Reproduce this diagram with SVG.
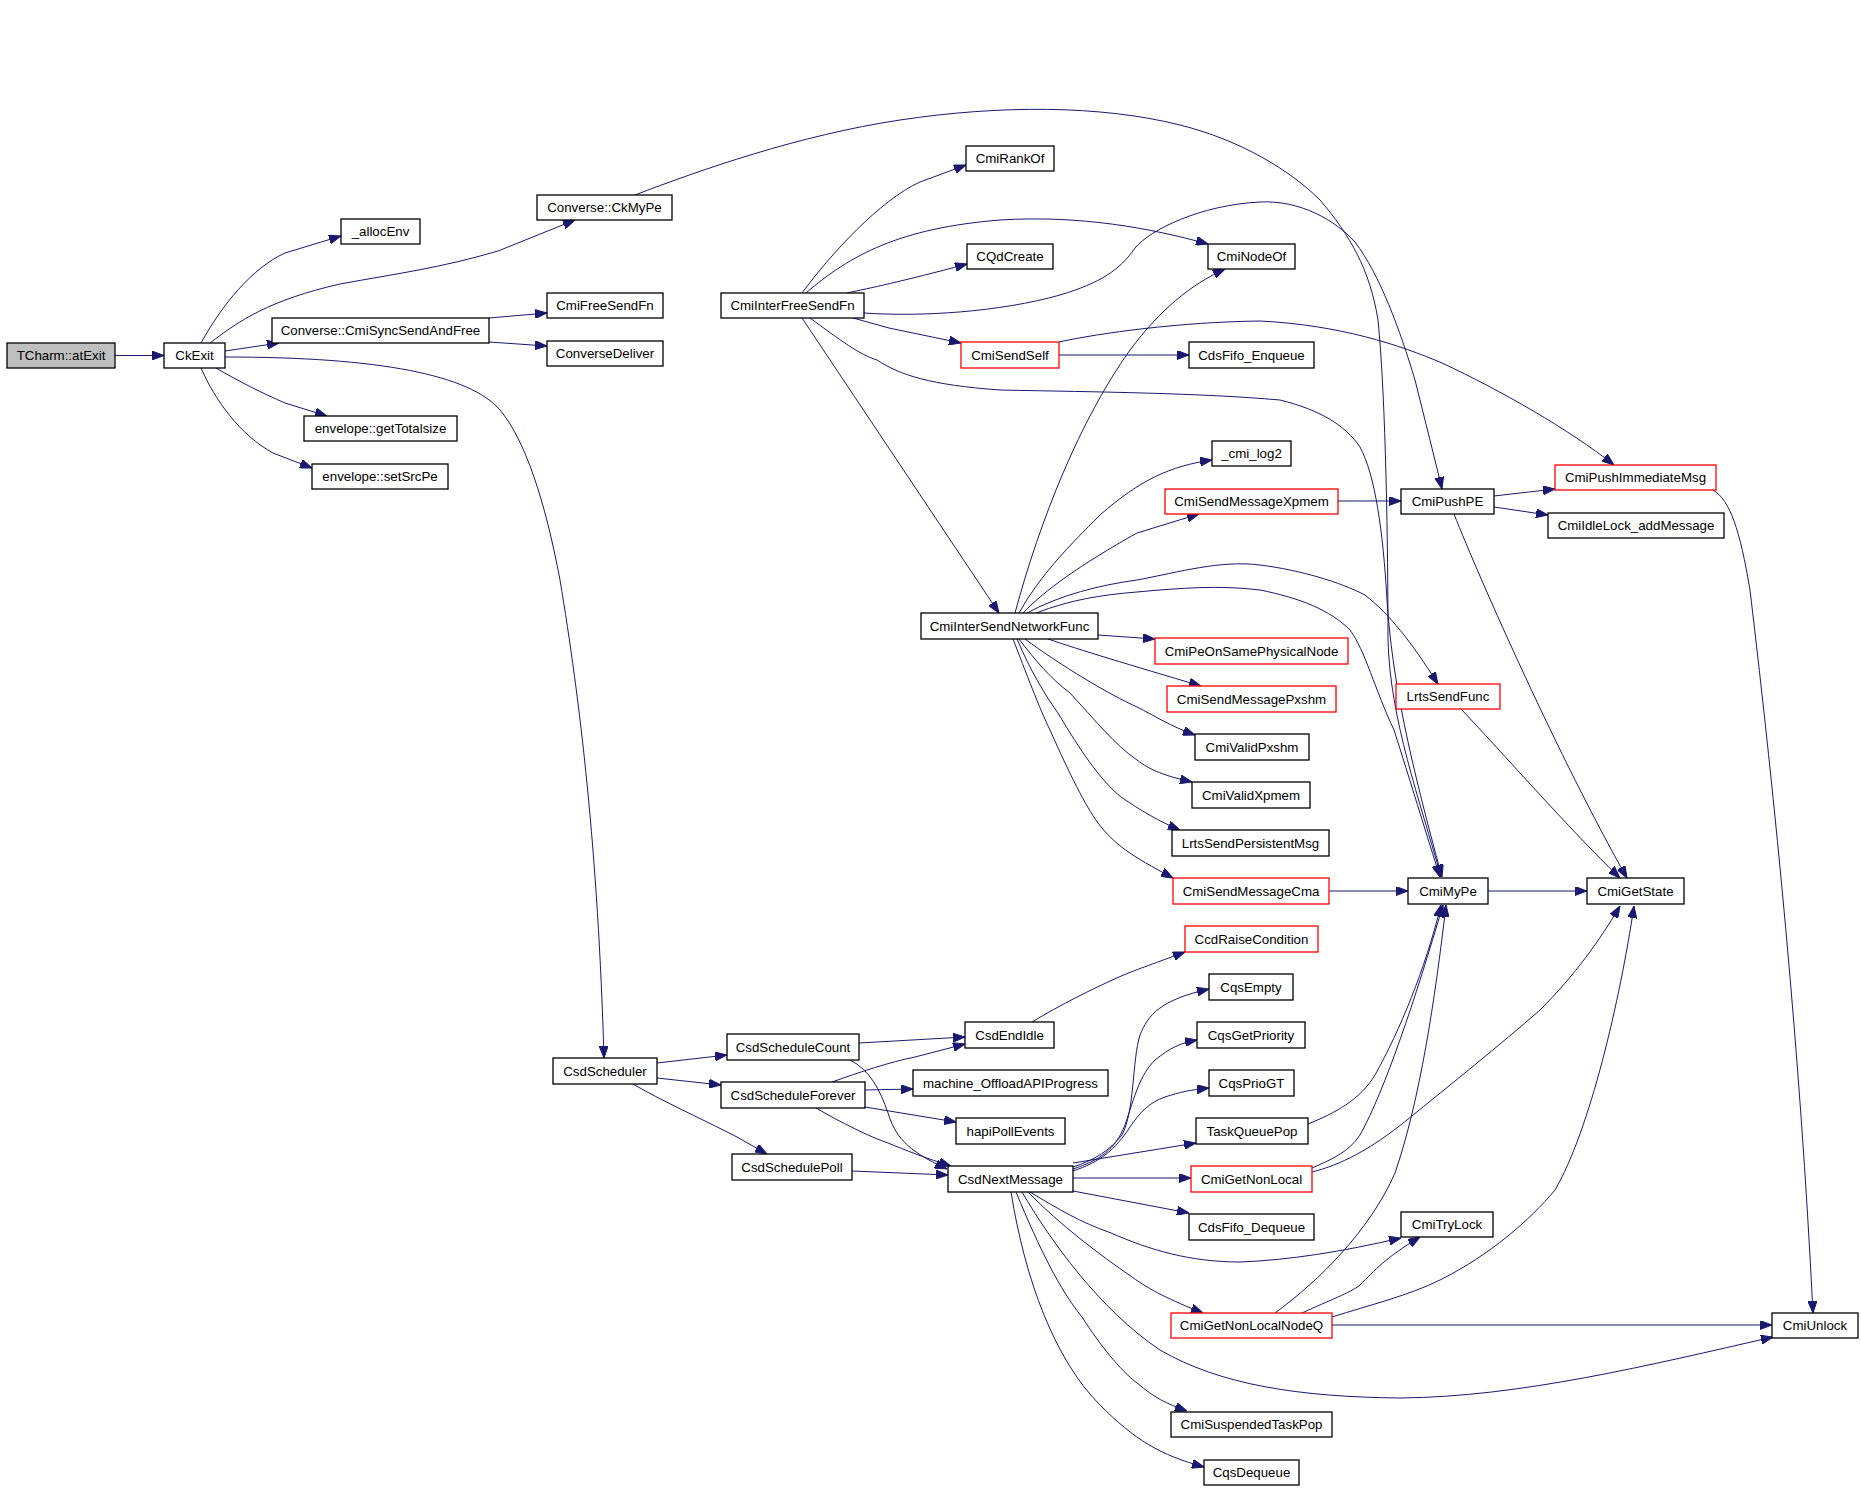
<svg xmlns="http://www.w3.org/2000/svg" width="1861" height="1489" viewBox="0 0 1861 1489">
<style>
.node rect{fill:#ffffff;stroke:#000000;stroke-width:1.3}
.node.red rect{stroke:#ff0000}
.node.root rect{fill:#bfbfbf}
.node text{font-family:"Liberation Sans",Arial,Helvetica,sans-serif;font-size:13.3px;fill:#000000;text-anchor:middle}
.edges path{fill:none;stroke:#191970;stroke-width:1}
</style>
<defs>
<marker id="ah" viewBox="0 0 12 9" refX="12" refY="4.5" markerWidth="12" markerHeight="9" markerUnits="userSpaceOnUse" orient="auto">
<path d="M0,0 L12,4.5 L0,9 z" fill="#191970" stroke="#191970" stroke-width="1"/>
</marker>
</defs>
<rect x="0" y="0" width="1861" height="1489" fill="#ffffff"/>
<g class="edges" marker-end="url(#ah)">
<path marker-end="url(#ah)" d="M115,355.5 L164,355.5"/>
<path marker-end="url(#ah)" d="M201,343 C222,305 252,268 285,253 L341,236"/>
<path marker-end="url(#ah)" d="M210,343 C240,320 270,300 340,284 C400,273 440,268 498,251 L575,220"/>
<path marker-end="url(#ah)" d="M225,351 L279,343"/>
<path marker-end="url(#ah)" d="M489,318 L547,313"/>
<path marker-end="url(#ah)" d="M489,342 L547,346"/>
<path marker-end="url(#ah)" d="M216,368 C240,382 262,393 285,403 L327,416"/>
<path marker-end="url(#ah)" d="M201,368 C215,400 240,435 273,453 L312,468"/>
<path marker-end="url(#ah)" d="M225,357 C380,357 470,375 500,410 C525,440 545,500 560,580 C580,700 598,850 604,1058"/>
<path marker-end="url(#ah)" d="M635,195 C700,170 800,135 900,120 C1000,105 1100,105 1180,125 C1240,140 1290,170 1320,200 C1350,235 1370,270 1378,320 C1386,400 1388,550 1388,640 C1390,720 1420,800 1441,877"/>
<path marker-end="url(#ah)" d="M864,313 C920,317 1000,312 1060,295 C1100,283 1120,270 1135,248 C1150,230 1200,205 1260,202 C1300,200 1335,220 1355,242 C1380,275 1400,330 1415,380 C1425,420 1435,460 1442,489"/>
<path marker-end="url(#ah)" d="M806,293 C850,255 900,228 1000,220 C1080,215 1150,228 1208,244"/>
<path marker-end="url(#ah)" d="M802,293 C830,255 880,200 920,182 L966,165"/>
<path marker-end="url(#ah)" d="M847,293 C870,288 900,282 967,264"/>
<path marker-end="url(#ah)" d="M853,318 L889,328 L961,343"/>
<path marker-end="url(#ah)" d="M802,318 L999,613"/>
<path marker-end="url(#ah)" d="M810,318 C840,340 860,355 877,360 C900,375 930,385 1000,390 C1100,392 1200,393 1280,400 C1320,410 1345,425 1360,447 C1375,475 1383,530 1387,600 C1392,680 1410,760 1442,877"/>
<path marker-end="url(#ah)" d="M1059,355 L1189,355"/>
<path marker-end="url(#ah)" d="M1059,342 C1100,333 1180,322 1260,321 C1340,325 1400,345 1442,363 C1500,390 1570,430 1614,465"/>
<path marker-end="url(#ah)" d="M1338,501 L1401,501"/>
<path marker-end="url(#ah)" d="M1494,496 L1555,489"/>
<path marker-end="url(#ah)" d="M1494,507 L1548,515"/>
<path marker-end="url(#ah)" d="M1454,514 C1480,580 1560,760 1627,878"/>
<path marker-end="url(#ah)" d="M1461,709 C1500,750 1570,830 1620,878"/>
<path marker-end="url(#ah)" d="M1713,490 C1730,500 1740,530 1750,590 C1775,800 1800,1050 1813,1313"/>
<path marker-end="url(#ah)" d="M1488,891 L1587,891"/>
<path marker-end="url(#ah)" d="M1329,891 L1408,891"/>
<path marker-end="url(#ah)" d="M1015,613 C1040,520 1080,420 1130,350 C1160,310 1190,285 1225,269"/>
<path marker-end="url(#ah)" d="M1019,613 C1040,575 1070,545 1100,515 C1140,480 1170,466 1212,460"/>
<path marker-end="url(#ah)" d="M1023,613 C1045,590 1080,565 1137,533 L1199,514"/>
<path marker-end="url(#ah)" d="M1027,613 C1060,595 1100,585 1137,580 C1180,572 1220,560 1260,565 C1300,570 1340,582 1365,595 C1390,615 1410,640 1438,684"/>
<path marker-end="url(#ah)" d="M1036,613 C1070,600 1100,595 1137,592 C1180,588 1220,585 1260,590 C1300,598 1330,610 1350,630 C1365,650 1375,690 1394,730 C1410,780 1425,830 1440,877"/>
<path marker-end="url(#ah)" d="M1098,635 L1155,639"/>
<path marker-end="url(#ah)" d="M1048,639 C1080,650 1130,665 1201,686"/>
<path marker-end="url(#ah)" d="M1025,639 C1060,665 1110,695 1137,707 C1155,716 1170,726 1195,735"/>
<path marker-end="url(#ah)" d="M1019,639 C1035,660 1050,678 1070,693 C1095,720 1115,745 1137,760 C1150,770 1165,776 1192,782"/>
<path marker-end="url(#ah)" d="M1017,639 C1030,670 1045,695 1058,713 C1080,750 1100,780 1121,797 C1140,810 1160,822 1180,830"/>
<path marker-end="url(#ah)" d="M1013,639 C1025,670 1040,710 1050,730 C1070,775 1085,805 1098,823 C1115,845 1130,855 1173,878"/>
<path marker-end="url(#ah)" d="M657,1063 L727,1055"/>
<path marker-end="url(#ah)" d="M657,1078 L721,1085"/>
<path marker-end="url(#ah)" d="M633,1084 C660,1100 700,1118 737,1137 L767,1154"/>
<path marker-end="url(#ah)" d="M859,1043 L965,1037"/>
<path marker-end="url(#ah)" d="M850,1060 C870,1070 880,1090 888,1113 C895,1135 905,1150 947,1169"/>
<path marker-end="url(#ah)" d="M832,1082 C860,1072 890,1062 915,1057 L965,1044"/>
<path marker-end="url(#ah)" d="M865,1090 L913,1089"/>
<path marker-end="url(#ah)" d="M865,1107 L956,1122"/>
<path marker-end="url(#ah)" d="M816,1108 C840,1122 870,1137 888,1143 C905,1150 925,1158 951,1166"/>
<path marker-end="url(#ah)" d="M852,1171 L948,1175"/>
<path marker-end="url(#ah)" d="M1032,1022 C1060,1005 1090,990 1119,977 C1135,970 1150,965 1185,952"/>
<path marker-end="url(#ah)" d="M1073,1167 C1095,1160 1110,1150 1122,1135 C1135,1110 1132,1060 1140,1035 C1148,1015 1160,1000 1209,989"/>
<path marker-end="url(#ah)" d="M1073,1169 C1100,1160 1115,1150 1125,1125 C1135,1095 1140,1075 1155,1060 C1170,1048 1180,1043 1197,1040"/>
<path marker-end="url(#ah)" d="M1073,1171 C1100,1162 1115,1150 1130,1127 C1140,1112 1150,1102 1165,1097 C1180,1092 1190,1090 1209,1088"/>
<path marker-end="url(#ah)" d="M1073,1163 L1196,1143"/>
<path marker-end="url(#ah)" d="M1073,1178 L1191,1178"/>
<path marker-end="url(#ah)" d="M1073,1191 L1189,1213"/>
<path marker-end="url(#ah)" d="M1030,1192 C1060,1210 1080,1222 1111,1233 C1150,1250 1190,1262 1240,1262 C1290,1260 1340,1252 1401,1238"/>
<path marker-end="url(#ah)" d="M1028,1192 C1060,1225 1100,1255 1132,1277 C1150,1290 1170,1300 1203,1313"/>
<path marker-end="url(#ah)" d="M1022,1192 C1050,1240 1100,1310 1160,1350 C1220,1385 1300,1397 1400,1398 C1520,1397 1650,1365 1773,1337"/>
<path marker-end="url(#ah)" d="M1016,1192 C1040,1250 1060,1290 1082,1317 C1100,1345 1120,1370 1137,1383 C1155,1398 1165,1403 1187,1411"/>
<path marker-end="url(#ah)" d="M1011,1192 C1025,1280 1055,1360 1100,1405 C1135,1440 1160,1455 1204,1467"/>
<path marker-end="url(#ah)" d="M1308,1124 C1335,1113 1360,1100 1375,1075 C1400,1030 1425,970 1441,905"/>
<path marker-end="url(#ah)" d="M1312,1168 C1330,1160 1348,1153 1360,1135 C1385,1090 1415,1000 1443,905"/>
<path marker-end="url(#ah)" d="M1312,1172 C1340,1165 1370,1150 1407,1120 C1450,1085 1500,1045 1540,1010 C1575,975 1600,940 1620,906"/>
<path marker-end="url(#ah)" d="M1275,1313 C1320,1280 1370,1230 1395,1173 C1420,1100 1435,1000 1446,905"/>
<path marker-end="url(#ah)" d="M1302,1313 C1330,1300 1350,1293 1360,1285 C1375,1270 1385,1258 1420,1237"/>
<path marker-end="url(#ah)" d="M1332,1317 C1370,1305 1410,1295 1440,1280 C1490,1255 1530,1220 1555,1190 C1590,1130 1620,1000 1634,906"/>
<path marker-end="url(#ah)" d="M1332,1325 L1772,1325"/>
</g>
<g id="n_tcharm" class="node root"><rect x="7" y="343" width="108" height="25"/><text x="61" y="360.2">TCharm::atExit</text></g>
<g id="n_ckexit" class="node"><rect x="164" y="343" width="61" height="25"/><text x="194.5" y="360.2">CkExit</text></g>
<g id="n_allocenv" class="node"><rect x="341" y="219" width="79" height="25"/><text x="380.5" y="236.2">_allocEnv</text></g>
<g id="n_ckmype" class="node"><rect x="537" y="195" width="135" height="25"/><text x="604.5" y="212.2">Converse::CkMyPe</text></g>
<g id="n_syncsend" class="node"><rect x="272" y="318" width="217" height="25"/><text x="380.5" y="335.2">Converse::CmiSyncSendAndFree</text></g>
<g id="n_freesend" class="node"><rect x="547" y="293" width="116" height="25"/><text x="605" y="310.2">CmiFreeSendFn</text></g>
<g id="n_convdeliver" class="node"><rect x="547" y="341" width="116" height="25"/><text x="605" y="358.2">ConverseDeliver</text></g>
<g id="n_gettotal" class="node"><rect x="304" y="416" width="153" height="25"/><text x="380.5" y="433.2">envelope::getTotalsize</text></g>
<g id="n_setsrcpe" class="node"><rect x="312" y="464" width="136" height="25"/><text x="380" y="481.2">envelope::setSrcPe</text></g>
<g id="n_interfree" class="node"><rect x="721" y="293" width="143" height="25"/><text x="792.5" y="310.2">CmiInterFreeSendFn</text></g>
<g id="n_rankof" class="node"><rect x="966" y="146" width="88" height="25"/><text x="1010" y="163.2">CmiRankOf</text></g>
<g id="n_qdcreate" class="node"><rect x="967" y="244" width="86" height="25"/><text x="1010" y="261.2">CQdCreate</text></g>
<g id="n_nodeof" class="node"><rect x="1208" y="244" width="87" height="25"/><text x="1251.5" y="261.2">CmiNodeOf</text></g>
<g id="n_sendself" class="node red"><rect x="961" y="342" width="98" height="26"/><text x="1010" y="359.7">CmiSendSelf</text></g>
<g id="n_enqueue" class="node"><rect x="1189" y="342" width="125" height="26"/><text x="1251.5" y="359.7">CdsFifo_Enqueue</text></g>
<g id="n_log2" class="node"><rect x="1212" y="441" width="79" height="25"/><text x="1251.5" y="458.2">_cmi_log2</text></g>
<g id="n_pushimm" class="node red"><rect x="1555" y="465" width="161" height="25"/><text x="1635.5" y="482.2">CmiPushImmediateMsg</text></g>
<g id="n_xpmem" class="node red"><rect x="1165" y="489" width="173" height="25"/><text x="1251.5" y="506.2">CmiSendMessageXpmem</text></g>
<g id="n_pushpe" class="node"><rect x="1401" y="489" width="93" height="25"/><text x="1447.5" y="506.2">CmiPushPE</text></g>
<g id="n_idlelock" class="node"><rect x="1548" y="513" width="176" height="25"/><text x="1636" y="530.2">CmiIdleLock_addMessage</text></g>
<g id="n_isnf" class="node"><rect x="921" y="613" width="177" height="26"/><text x="1009.5" y="630.7">CmiInterSendNetworkFunc</text></g>
<g id="n_peon" class="node red"><rect x="1155" y="638" width="193" height="26"/><text x="1251.5" y="655.7">CmiPeOnSamePhysicalNode</text></g>
<g id="n_lrtssend" class="node red"><rect x="1396" y="684" width="104" height="25"/><text x="1448" y="701.2">LrtsSendFunc</text></g>
<g id="n_pxshm" class="node red"><rect x="1167" y="686" width="169" height="26"/><text x="1251.5" y="703.7">CmiSendMessagePxshm</text></g>
<g id="n_validpxshm" class="node"><rect x="1195" y="734" width="114" height="26"/><text x="1252" y="751.7">CmiValidPxshm</text></g>
<g id="n_validxpmem" class="node"><rect x="1192" y="782" width="118" height="26"/><text x="1251" y="799.7">CmiValidXpmem</text></g>
<g id="n_persist" class="node"><rect x="1172" y="830" width="157" height="26"/><text x="1250.5" y="847.7">LrtsSendPersistentMsg</text></g>
<g id="n_cma" class="node red"><rect x="1173" y="878" width="156" height="26"/><text x="1251" y="895.7">CmiSendMessageCma</text></g>
<g id="n_mype" class="node"><rect x="1408" y="878" width="80" height="26"/><text x="1448" y="895.7">CmiMyPe</text></g>
<g id="n_getstate" class="node"><rect x="1587" y="878" width="97" height="26"/><text x="1635.5" y="895.7">CmiGetState</text></g>
<g id="n_ccdraise" class="node red"><rect x="1185" y="926" width="133" height="26"/><text x="1251.5" y="943.7">CcdRaiseCondition</text></g>
<g id="n_cqsempty" class="node"><rect x="1209" y="974" width="84" height="26"/><text x="1251" y="991.7">CqsEmpty</text></g>
<g id="n_endidle" class="node"><rect x="965" y="1022" width="89" height="26"/><text x="1009.5" y="1039.7">CsdEndIdle</text></g>
<g id="n_getprio" class="node"><rect x="1197" y="1022" width="108" height="26"/><text x="1251" y="1039.7">CqsGetPriority</text></g>
<g id="n_count" class="node"><rect x="727" y="1034" width="132" height="26"/><text x="793" y="1051.7">CsdScheduleCount</text></g>
<g id="n_scheduler" class="node"><rect x="553" y="1058" width="104" height="26"/><text x="605" y="1075.7">CsdScheduler</text></g>
<g id="n_offload" class="node"><rect x="913" y="1070" width="195" height="26"/><text x="1010.5" y="1087.7">machine_OffloadAPIProgress</text></g>
<g id="n_priogt" class="node"><rect x="1209" y="1070" width="85" height="26"/><text x="1251.5" y="1087.7">CqsPrioGT</text></g>
<g id="n_forever" class="node"><rect x="721" y="1082" width="144" height="26"/><text x="793" y="1099.7">CsdScheduleForever</text></g>
<g id="n_hapi" class="node"><rect x="956" y="1118" width="109" height="26"/><text x="1010.5" y="1135.7">hapiPollEvents</text></g>
<g id="n_tqpop" class="node"><rect x="1196" y="1118" width="112" height="26"/><text x="1252" y="1135.7">TaskQueuePop</text></g>
<g id="n_poll" class="node"><rect x="732" y="1154" width="120" height="26"/><text x="792" y="1171.7">CsdSchedulePoll</text></g>
<g id="n_nextmsg" class="node"><rect x="948" y="1166" width="125" height="26"/><text x="1010.5" y="1183.7">CsdNextMessage</text></g>
<g id="n_getnonlocal" class="node red"><rect x="1191" y="1166" width="121" height="26"/><text x="1251.5" y="1183.7">CmiGetNonLocal</text></g>
<g id="n_dequeue" class="node"><rect x="1189" y="1214" width="125" height="26"/><text x="1251.5" y="1231.7">CdsFifo_Dequeue</text></g>
<g id="n_trylock" class="node"><rect x="1401" y="1212" width="92" height="25"/><text x="1447" y="1229.2">CmiTryLock</text></g>
<g id="n_nodeq" class="node red"><rect x="1171" y="1313" width="161" height="25"/><text x="1251.5" y="1330.2">CmiGetNonLocalNodeQ</text></g>
<g id="n_unlock" class="node"><rect x="1772" y="1313" width="86" height="25"/><text x="1815" y="1330.2">CmiUnlock</text></g>
<g id="n_suspended" class="node"><rect x="1171" y="1412" width="161" height="25"/><text x="1251.5" y="1429.2">CmiSuspendedTaskPop</text></g>
<g id="n_cqsdequeue" class="node"><rect x="1204" y="1460" width="95" height="25"/><text x="1251.5" y="1477.2">CqsDequeue</text></g>
</svg>
